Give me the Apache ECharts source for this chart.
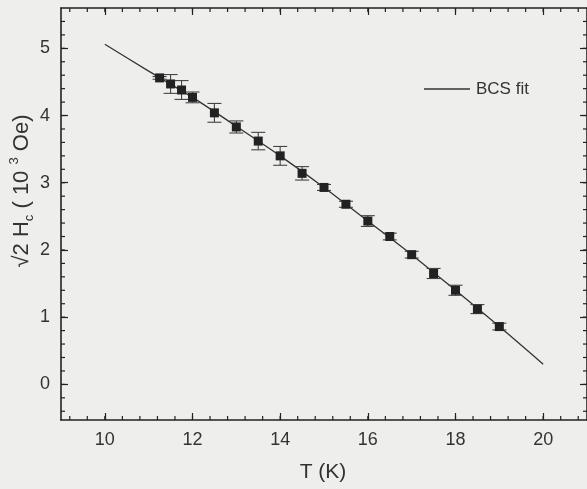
<!DOCTYPE html>
<html>
<head>
<meta charset="utf-8">
<script src="https://cdn.jsdelivr.net/npm/echarts@6/dist/echarts.min.js"></script>
<style>
html,body{margin:0;padding:0;background:#eeeeec;}
#chart{width:587px;height:489px;}
</style>
</head>
<body>
<div id="chart"></div>
<script>
// Measured data: T (K) vs sqrt(2) Hc (10^3 Oe)
var temps = [11.25, 11.5, 11.75, 12, 12.5, 13, 13.5, 14, 14.5, 15, 15.5, 16, 16.5, 17, 17.5, 18, 18.5, 19];
var hcVals = [4.56, 4.47, 4.38, 4.27, 4.04, 3.83, 3.62, 3.40, 3.14, 2.93, 2.68, 2.43, 2.20, 1.93, 1.65, 1.40, 1.12, 0.86];
var hcErr = [0.02, 0.14, 0.14, 0.08, 0.14, 0.09, 0.13, 0.14, 0.10, 0.045, 0.045, 0.08, 0.05, 0.05, 0.075, 0.075, 0.067, 0.05];
// BCS fit curve
var fitT = [10, 11, 12, 13, 14, 15, 16, 17, 18, 19, 20];
var fitH = [5.06, 4.66, 4.27, 3.84, 3.40, 2.93, 2.43, 1.93, 1.40, 0.86, 0.30];
// tick labels
var xTickLabels = [10, 12, 14, 16, 18, 20];
var yTickLabels = [0, 1, 2, 3, 4, 5];

var xMin = 9, xMax = 21, yMin = -0.53, yMax = 5.6;
var xMinor = [];
for (var i = 0; i <= 29; i++) { var v = +(9.2 + i * 0.4).toFixed(2); if (v < xMax) xMinor.push(v); }
var yMinor = [];
for (var j = 0; j <= 30; j++) { var w = +(-0.4 + j * 0.2).toFixed(2); if (w < yMax && w > yMin) yMinor.push(w); }

var FONT = '"Liberation Sans", Arial, sans-serif';
var frameColor = '#222';

function xAx(pos, showLabel) {
  return {
    type: 'value', min: xMin, max: xMax, position: pos,
    axisLine: { show: true, onZero: false, lineStyle: { color: frameColor, width: 1.6 } },
    axisTick: { show: true, inside: true, length: 7, lineStyle: { color: frameColor, width: 1.2 }, customValues: xTickLabels },
    axisLabel: { show: showLabel, customValues: xTickLabels, fontSize: 18, fontFamily: FONT, color: '#333', margin: 11 },
    splitLine: { show: false }
  };
}
function yAx(pos, showLabel) {
  return {
    type: 'value', min: yMin, max: yMax, position: pos,
    axisLine: { show: true, onZero: false, lineStyle: { color: frameColor, width: 1.6 } },
    axisTick: { show: true, inside: true, length: 7, lineStyle: { color: frameColor, width: 1.2 }, customValues: yTickLabels },
    axisLabel: { show: showLabel, customValues: yTickLabels, fontSize: 18, fontFamily: FONT, color: '#333', margin: 11 },
    splitLine: { show: false }
  };
}

// minor tick data: [axis flag, value]  (0 = x, 1 = y)
var minorData = xMinor.map(function (v) { return [0, v]; }).concat(yMinor.map(function (v) { return [1, v]; }));

var chart = echarts.init(document.getElementById('chart'), null, { renderer: 'canvas' });
chart.setOption({
  backgroundColor: '#eeeeec',
  animation: false,
  grid: { left: 61, right: -2, top: 8, bottom: 69 },
  xAxis: [xAx('bottom', true), xAx('top', false)],
  yAxis: [yAx('left', true), yAx('right', false)],
  series: [
    {
      name: 'minor', type: 'custom', silent: true, z: 1,
      encode: { x: -1, y: -1 },
      data: minorData,
      renderItem: function (params, api) {
        var cs = params.coordSys;
        var L = 4, st = { stroke: frameColor, lineWidth: 1.2 };
        var kind = api.value(0), val = api.value(1);
        if (kind === 0) {
          var px = api.coord([val, yMin])[0];
          return { type: 'group', children: [
            { type: 'line', shape: { x1: px, y1: cs.y + cs.height, x2: px, y2: cs.y + cs.height - L }, style: st },
            { type: 'line', shape: { x1: px, y1: cs.y, x2: px, y2: cs.y + L }, style: st }
          ] };
        } else {
          var py = api.coord([xMin, val])[1];
          return { type: 'group', children: [
            { type: 'line', shape: { x1: cs.x, y1: py, x2: cs.x + L, y2: py }, style: st },
            { type: 'line', shape: { x1: cs.x + cs.width, y1: py, x2: cs.x + cs.width - L, y2: py }, style: st }
          ] };
        }
      }
    },
    {
      name: 'BCS fit', type: 'line', smooth: 0.3, symbol: 'none',
      data: fitT.map(function (t, k) { return [t, fitH[k]]; }),
      lineStyle: { color: '#333', width: 1.3 }, z: 2
    },
    {
      name: 'err', type: 'custom', silent: true, z: 3,
      data: temps.map(function (t, k) { return [t, hcVals[k] - hcErr[k], hcVals[k] + hcErr[k]]; }),
      renderItem: function (params, api) {
        var lo = api.coord([api.value(0), api.value(1)]);
        var hi = api.coord([api.value(0), api.value(2)]);
        var hw = 7;
        var st = { stroke: '#444', lineWidth: 1.1 };
        return { type: 'group', children: [
          { type: 'line', shape: { x1: lo[0], y1: lo[1], x2: hi[0], y2: hi[1] }, style: st },
          { type: 'line', shape: { x1: lo[0] - hw, y1: lo[1], x2: lo[0] + hw, y2: lo[1] }, style: st },
          { type: 'line', shape: { x1: hi[0] - hw, y1: hi[1], x2: hi[0] + hw, y2: hi[1] }, style: st }
        ] };
      }
    },
    {
      name: 'data', type: 'scatter', symbol: 'rect', symbolSize: 9,
      data: temps.map(function (t, k) { return [t, hcVals[k]]; }),
      itemStyle: { color: '#222', opacity: 1 }, z: 4
    }
  ],
  graphic: [
    {
      type: 'text', x: 22, y: 191, rotation: Math.PI / 2,
      style: {
        text: '√2 H{sub|c} ( 10 {sup|3} Oe)',
        font: '22px ' + FONT, fill: '#333', align: 'center', verticalAlign: 'middle',
        lineHeight: 28,
        rich: {
          sub: { fontSize: 13, fontFamily: FONT, fill: '#333', verticalAlign: 'bottom', lineHeight: 28 },
          sup: { fontSize: 13, fontFamily: FONT, fill: '#333', verticalAlign: 'top', lineHeight: 28 }
        }
      }
    },
    {
      type: 'text', x: 323, y: 472,
      style: { text: 'T (K)', font: '21px ' + FONT, fill: '#333', align: 'center', verticalAlign: 'middle' }
    },
    {
      type: 'line', shape: { x1: 424, y1: 89, x2: 470, y2: 89 }, style: { stroke: '#333', lineWidth: 1.3 }
    },
    {
      type: 'text', x: 476, y: 89,
      style: { text: 'BCS fit', font: '17px ' + FONT, fill: '#333', align: 'left', verticalAlign: 'middle' }
    }
  ]
});
</script>
</body>
</html>
